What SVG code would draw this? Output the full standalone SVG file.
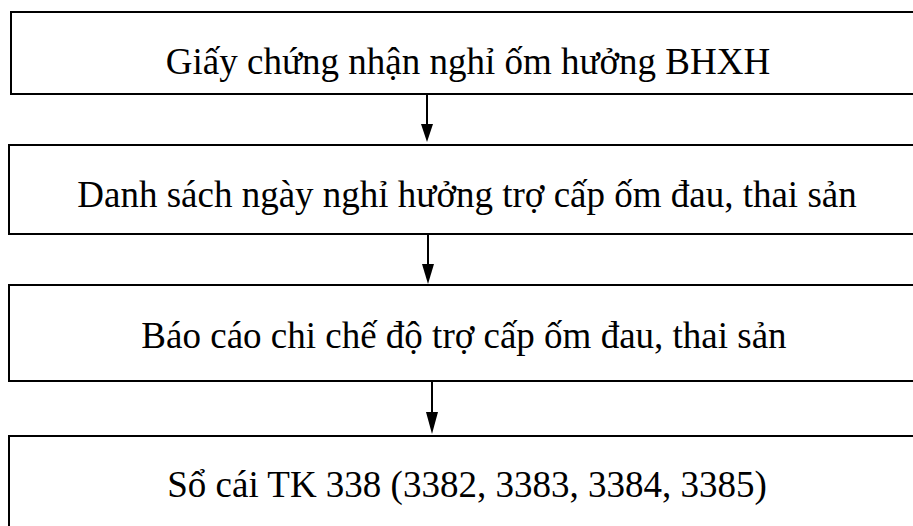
<svg xmlns="http://www.w3.org/2000/svg" width="913" height="526" viewBox="0 0 913 526">
<style>
.box{fill:#fff;stroke:#000;stroke-width:2}
.t{font-family:"Liberation Serif","Times New Roman",serif;font-size:37px;fill:#000;text-anchor:middle}
.c{stroke:#000;stroke-width:2;fill:none}
</style>
<rect width="913" height="526" fill="#fff"/>
<g id="n1"><rect class="box" x="11" y="12" width="930" height="82"/><text class="t" x="468" y="74">Giấy chứng nhận nghỉ ốm hưởng BHXH</text></g>
<g id="n2"><rect class="box" x="9" y="145" width="930" height="89"/><text class="t" x="467" y="207">Danh sách ngày nghỉ hưởng trợ cấp ốm đau, thai sản</text></g>
<g id="n3"><rect class="box" x="9" y="285" width="930" height="96"/><text class="t" x="464" y="348">Báo cáo chi chế độ trợ cấp ốm đau, thai sản</text></g>
<g id="n4"><rect class="box" x="9" y="436" width="930" height="120"/><text class="t" x="467" y="497">Sổ cái TK 338 (3382, 3383, 3384, 3385)</text></g>
<g id="connectors">
<line class="c" x1="427" y1="94" x2="427" y2="126"/><path d="M421,124 L433,124 L427,142 Z"/>
<line class="c" x1="428" y1="234" x2="428" y2="266"/><path d="M422,264 L434,264 L428,284 Z"/>
<line class="c" x1="432" y1="381" x2="432" y2="414"/><path d="M426,412 L438,412 L432,434 Z"/>
</g>
</svg>
